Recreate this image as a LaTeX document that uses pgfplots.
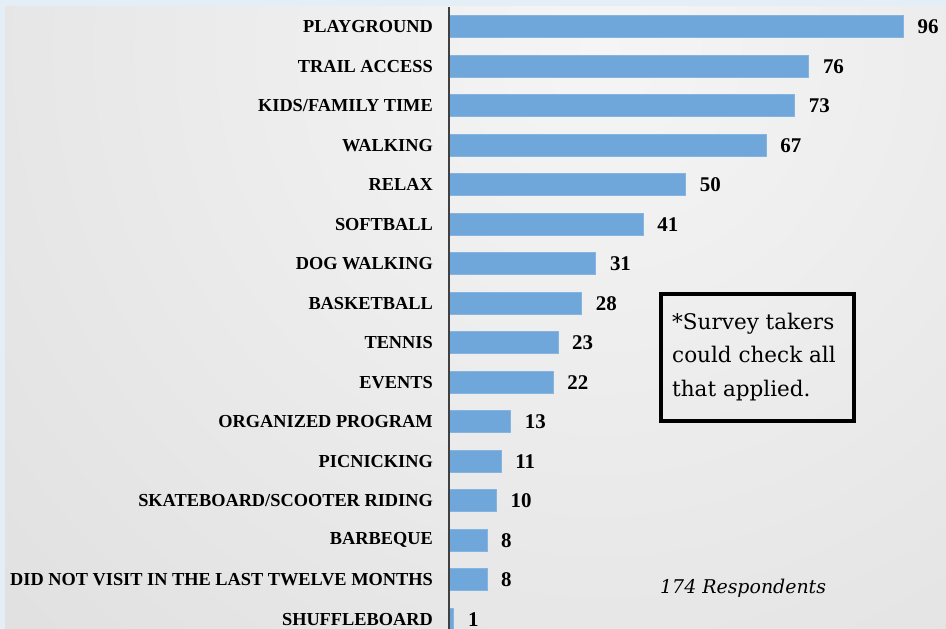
\documentclass[border=0pt]{standalone}
\usepackage{pgfplots}
\pgfplotsset{compat=1.18}
\usepackage{pgfplotstable}
\usepackage{fontspec}
\setmainfont{Liberation Serif}
\newfontfamily\notefont{DejaVu Serif}

\definecolor{barblue}{RGB}{111,167,219}
\definecolor{frameblue}{RGB}{228,238,247}
\definecolor{panellight}{RGB}{245,245,245}
\definecolor{paneldark}{RGB}{208,208,208}
\definecolor{axisgray}{RGB}{64,64,64}

% uses of the park, one row per bar, top to bottom
\pgfplotstableread{
idx value
0 96
1 76
2 73
3 67
4 50
5 41
6 31
7 28
8 23
9 22
10 13
11 11
12 10
13 8
14 8
15 1
}\parkuses

\begin{document}
\begin{tikzpicture}
\path[use as bounding box] (0bp,0bp) rectangle (946bp,629bp);
\fill[frameblue] (0bp,0bp) rectangle (946bp,629bp);
\begin{scope}
  \clip (5bp,0bp) rectangle (946bp,622bp);
  \shade[inner color=panellight, outer color=paneldark]
    (-900bp,-920bp) rectangle (2100bp,2080bp);
\end{scope}

\begin{axis}[
    at={(449bp,622bp)}, anchor=north west,
    scale only axis,
    width=497bp, height=622bp,
    xbar, bar width=22bp,
    xmin=0, xmax=105,
    ymin=-0.5, ymax=15.25,
    y dir=reverse,
    axis on top,
    axis x line=none,
    axis y line=left,
    axis line style={-, line width=2.8bp, color=axisgray},
    ytick=data,
    yticklabels={PLAYGROUND, TRAIL ACCESS, KIDS/FAMILY TIME, WALKING, RELAX,
      SOFTBALL, DOG WALKING, BASKETBALL, TENNIS, EVENTS, ORGANIZED PROGRAM,
      PICNICKING, SKATEBOARD/SCOOTER RIDING, BARBEQUE,
      DID NOT VISIT IN THE LAST TWELVE MONTHS, SHUFFLEBOARD},
    major tick length=0pt,
    yticklabel style={font=\bfseries\fontsize{18.4}{18.4}\selectfont,
      inner sep=0pt, xshift=-16bp},
    /pgf/number format/assume math mode=true,
    nodes near coords,
    nodes near coords style={font=\bfseries\fontsize{21}{21}\selectfont,
      inner sep=0pt, anchor=west, xshift=14bp},
    clip=false,
  ]
  \addplot[fill=barblue, draw=barblue!85!white, line width=0.6bp]
    table[x=value, y=idx] {\parkuses};
\end{axis}
% vertical axis line, drawn again over the bars' left ends
\draw[line width=2.8bp, axisgray] (449bp,622bp) -- (449bp,0bp);

% note box
\draw[line width=4bp] (661bp,208bp) rectangle (854bp,335bp);
\node[anchor=base west, inner sep=0pt, font=\notefont\fontsize{21.6}{21.6}\selectfont]
  at (672bp,299bp) {*Survey takers};
\node[anchor=base west, inner sep=0pt, font=\notefont\fontsize{21.6}{21.6}\selectfont]
  at (672bp,266bp) {could check all};
\node[anchor=base west, inner sep=0pt, font=\notefont\fontsize{21.6}{21.6}\selectfont]
  at (672bp,232bp) {that applied.};
\node[anchor=base west, inner sep=0pt, font=\notefont\itshape\fontsize{19}{19}\selectfont]
  at (660bp,36bp) {174 Respondents};
\end{tikzpicture}
\end{document}
